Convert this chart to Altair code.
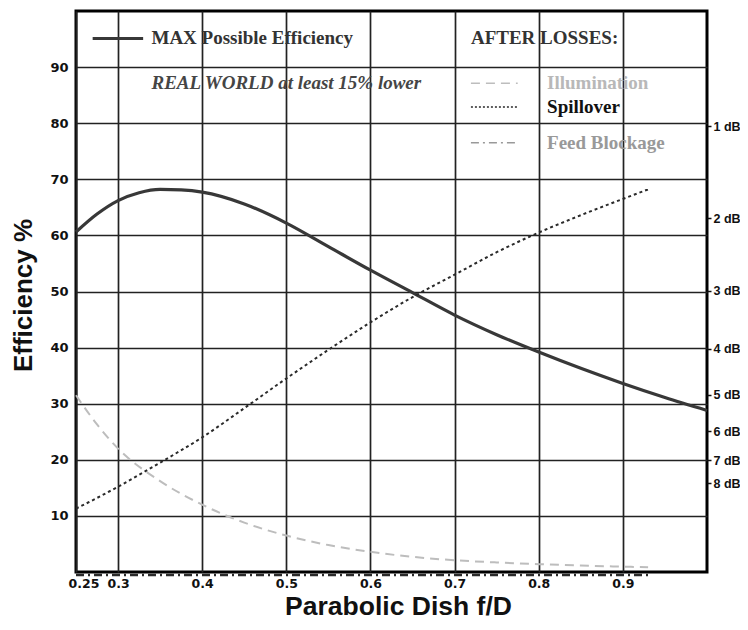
import altair as alt
import pandas as pd

# ---- data ----
fd = [0.25, 0.275, 0.30, 0.325, 0.35, 0.375, 0.40, 0.45, 0.50, 0.55, 0.60,
      0.65, 0.70, 0.75, 0.80, 0.85, 0.90, 0.95, 1.00]
max_eff = [60.6, 63.8, 66.2, 67.6, 68.2, 68.1, 67.7, 65.6, 62.2, 58.0, 53.8,
           49.8, 45.8, 42.3, 39.2, 36.3, 33.6, 31.1, 28.8]

loss_fd = [0.25, 0.275, 0.30, 0.35, 0.40, 0.45, 0.50, 0.55, 0.60, 0.65,
           0.70, 0.75, 0.80, 0.85, 0.90, 0.93]
illumination = [31.5, 26.3, 22.0, 16.2, 12.0, 8.8, 6.5, 4.8, 3.6, 2.7,
                2.1, 1.7, 1.4, 1.15, 0.95, 0.85]
spillover = [11.3, 13.2, 15.2, 19.5, 24.0, 29.2, 34.5, 39.6, 44.5, 49.0,
             53.0, 57.0, 60.5, 63.6, 66.5, 68.2]
feed_blockage = [0, 0, 0, 0, 0, 0, 0, 0, 0, 0, 0, 0, 0, 0, 0, 0]

x_ticks = [0.25, 0.3, 0.4, 0.5, 0.6, 0.7, 0.8, 0.9]
y_ticks = [10, 20, 30, 40, 50, 60, 70, 80, 90]
db_ticks = [1, 2, 3, 4, 5, 6, 7, 8]

legend_labels = ["MAX Possible Efficiency", "AFTER LOSSES:", "Illumination",
                 "Spillover", "Feed Blockage"]
legend_note = "REAL WORLD at least 15% lower"

SANS = "Liberation Sans"
WIDE = "DejaVu Sans"
SERIF = "Liberation Serif"

xs = alt.Scale(domain=[0.25, 1.0], nice=False, zero=False)
ys = alt.Scale(domain=[0, 100], nice=False, zero=False)

x_axis = alt.Axis(values=x_ticks, format=".2~f", grid=True, gridColor="#222",
                  gridWidth=1.7, domain=False, ticks=False,
                  labelFont=WIDE, labelFontWeight="bold", labelFontSize=12.5,
                  labelColor="#111", labelPadding=5, labelFlush=True,
                  labelFlushOffset=8,
                  title="Parabolic Dish f/D", titleFont=SANS, titleFontSize=26.5,
                  titleFontWeight="bold", titleColor="#111",
                  titleX=322, titleY=42, titleAlign="center",
                  titleBaseline="alphabetic")
y_axis = alt.Axis(values=y_ticks, grid=True, gridColor="#222", gridWidth=1.7,
                  domain=False, ticks=False, labelFont=WIDE,
                  labelFontWeight="bold", labelFontSize=13, labelColor="#111",
                  labelPadding=8, title="Efficiency %", titleFont=SANS,
                  titleFontSize=26, titleFontWeight="bold", titleColor="#111",
                  titleX=-45, titleY=284, titleAngle=270, titleAlign="center",
                  titleBaseline="alphabetic")


def X(field="x"):
    return alt.X(f"{field}:Q", scale=xs, axis=x_axis)


def Y(field="y"):
    return alt.Y(f"{field}:Q", scale=ys, axis=y_axis)


df_max = pd.DataFrame({"x": fd, "y": max_eff})
df_ill = pd.DataFrame({"x": loss_fd, "y": illumination})
df_spill = pd.DataFrame({"x": loss_fd, "y": spillover})
df_feed = pd.DataFrame({"x": loss_fd, "y": feed_blockage})

max_line = alt.Chart(df_max).mark_line(
    color="#383838", strokeWidth=3.2, interpolate="monotone"
).encode(x=X(), y=Y())
ill_line = alt.Chart(df_ill).mark_line(
    color="#bdbdbd", strokeWidth=2, strokeDash=[9, 6], interpolate="monotone"
).encode(x=X(), y=Y())
spill_line = alt.Chart(df_spill).mark_line(
    color="#2a2a2a", strokeWidth=2, strokeDash=[3, 3], interpolate="monotone"
).encode(x=X(), y=Y())
feed_line = alt.Chart(df_feed).mark_line(
    color="#2a2a2a", strokeWidth=2.5, strokeDash=[8, 4, 2, 4], yOffset=3
).encode(x=X(), y=Y())


# ---- in-plot legend ----
def sample(x0, x1, yv, **style):
    d = pd.DataFrame({"x": [x0, x1], "y": [yv, yv]})
    return alt.Chart(d).mark_line(**style).encode(x=X(), y=Y())


leg_max = sample(0.2698, 0.3298, 95.1, color="#383838", strokeWidth=3.2)
leg_ill = sample(0.7194, 0.775, 87.1, color="#bdbdbd", strokeWidth=1.5,
                 strokeDash=[9, 6])
leg_spill = sample(0.7194, 0.775, 82.9, color="#2a2a2a", strokeWidth=1.5,
                   strokeDash=[2, 2])
leg_feed = sample(0.7194, 0.775, 76.5, color="#999999", strokeWidth=1.5,
                  strokeDash=[8, 4, 2, 4])

df_text = pd.DataFrame({
    "x": [0.3397, 0.7194, 0.8099, 0.8099, 0.8099],
    "y": [95.1, 95.1, 87.1, 82.9, 76.5],
    "label": legend_labels,
    "c": ["#333333", "#333333", "#b8b8b8", "#111111", "#999999"],
})
leg_text = alt.Chart(df_text).mark_text(
    align="left", baseline="middle", font=SERIF, fontSize=19, fontWeight="bold"
).encode(x=X(), y=Y(), text="label:N", color=alt.Color("c:N", scale=None))

df_note = pd.DataFrame({"x": [0.3397], "y": [87.1], "label": [legend_note]})
note_text = alt.Chart(df_note).mark_text(
    align="left", baseline="middle", font=SERIF, fontSize=19,
    fontWeight="bold", fontStyle="italic", color="#454545"
).encode(x=X(), y=Y(), text="label:N")

main = alt.layer(max_line, ill_line, spill_line, feed_line, leg_max, leg_ill,
                 leg_spill, leg_feed, leg_text, note_text)

# ---- right dB axis ----
df_db = pd.DataFrame({"y": [100 * 10 ** (-d / 10) for d in db_ticks]})
right_axis = alt.Axis(orient="right", values=list(df_db["y"]), grid=False,
                      domain=False, ticks=True, tickSize=4, tickColor="#111",
                      tickWidth=1.5, labelFont=SANS, labelFontWeight="bold",
                      labelFontSize=12.5, labelColor="#111", labelPadding=2,
                      labelExpr="format(-10*log(datum.value/100)/LN10, '.0f') + ' dB'",
                      title=None)
db_layer = alt.Chart(df_db).mark_point(opacity=0).encode(
    y=alt.Y("y:Q", scale=ys, axis=right_axis)
)

chart = alt.layer(main, db_layer).resolve_scale(y="independent").properties(
    width=631, height=561,
    padding={"left": 68, "top": 3, "right": 33, "bottom": 48},
    autosize=alt.AutoSizeParams(type="none"),
).configure_view(stroke="black", strokeWidth=3)

chart.save("out.html", embed_options={"renderer": "svg", "actions": False})
